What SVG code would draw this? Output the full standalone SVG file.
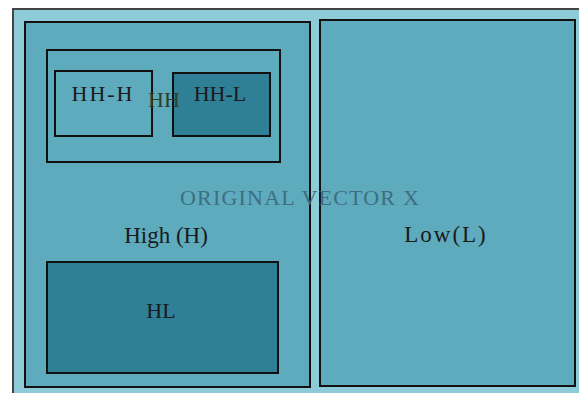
<svg xmlns="http://www.w3.org/2000/svg" width="579" height="393" viewBox="0 0 579 393">
<style>
.box{stroke:#111;stroke-width:2}
.pat{fill:#5eabbd}
.dark{fill:#2f7f96}
.t{font-family:"Liberation Serif","Times New Roman",serif;font-size:22px;fill:#1a1a1a;text-anchor:middle}
</style>
<rect width="579" height="393" fill="#ffffff"/>
<g id="frame">
<rect x="13" y="9" width="570" height="390" fill="#8ecbd9" stroke="#444" stroke-width="2"/>
</g>
<g id="high">
<rect class="box pat" x="25" y="22" width="285" height="365"/>
<text class="t" x="166" y="243" style="font-size:23px">High (H)</text>
</g>
<g id="low">
<rect class="box pat" x="320" y="20" width="255" height="366"/>
<text class="t" x="446" y="242" style="font-size:23px" letter-spacing="2">Low(L)</text>
</g>
<g id="hh">
<rect class="box" x="47" y="50" width="233" height="112" fill="none"/>
</g>
<g id="hh-h">
<rect class="box" x="55" y="71" width="97" height="65" fill="none"/>
<text class="t" x="103" y="101" letter-spacing="2">HH-H</text>
</g>
<g id="hh-l">
<rect class="box dark" x="173" y="73" width="97" height="63"/>
<text class="t" x="220" y="101">HH-L</text>
</g>
<text class="t" x="164" y="107" style="fill:#2d3f2a">HH</text>
<g id="hl">
<rect class="box dark" x="47" y="262" width="231" height="111"/>
<text class="t" x="161" y="318">HL</text>
</g>
<g id="original">
<text class="t" x="300" y="205" letter-spacing="1.2" style="fill:#3e6e80">ORIGINAL VECTOR X</text>
</g>
<g id="connectors"/>
</svg>
